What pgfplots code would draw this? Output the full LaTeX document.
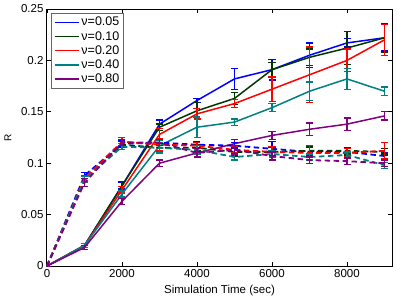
\documentclass[border=0pt]{standalone}
\usepackage{fontspec}
\setmainfont{Liberation Sans}
\usepackage{pgfplots}
\pgfplotsset{compat=1.18}
\definecolor{cB}{rgb}{0,0,1}
\definecolor{cG}{rgb}{0,0.22,0}
\definecolor{cR}{rgb}{1,0,0}
\definecolor{cT}{rgb}{0,0.5,0.5}
\definecolor{cP}{rgb}{0.5,0,0.5}
\begin{document}
\begin{tikzpicture}
\begin{axis}[
  scale only axis, width=345pt, height=257pt,
  xmin=0, xmax=9200, ymin=0, ymax=0.25,
  xtick={0,2000,4000,6000,8000},
  ytick={0,0.05,0.1,0.15,0.2,0.25},
  yticklabels={0,0.05,0.1,0.15,0.2,0.25},
  scaled x ticks=false,
  xticklabel style={/pgf/number format/1000 sep={}},
  /pgf/number format/assume math mode=true,
  tick pos=both, tick align=inside,
  major tick length=4pt,
  axis line style={line width=1pt},
  tick style={line width=0.8pt, black},
  tick label style={font=\fontsize{11.5}{12}\selectfont},
  label style={font=\fontsize{11.5}{12}\selectfont},
  xlabel={Simulation Time (sec)}, ylabel={R},
  xlabel style={at={(axis description cs:0.5,0)}, anchor=center, yshift=-25pt},
  every axis y label/.style={at={(axis description cs:0,0.5)}, anchor=center, xshift=-39pt, rotate=90},
  legend style={font=\fontsize{12.5}{15}\selectfont, draw=black!60, line width=0.6pt, inner sep=2pt, row sep=0pt, at={(0.013,0.985)}, anchor=north west},
  legend cell align=left,
  legend image code/.code={\draw[#1, solid, line width=1.5pt] (0pt,0pt) -- (0.85cm,0pt);},
  every axis plot/.append style={line width=1.5pt},
  dsh/.style={dash pattern=on 5.5pt off 3.5pt, line width=1.8pt},
  error bars/error bar style={line width=1.3pt, solid},
  error bars/error mark options={rotate=90, mark size=3.5pt, line width=1.3pt, solid},
]
% solid lines
\addplot[cB, error bars/.cd, y dir=both, y explicit] table[y error=e] {
x y e
0 0 0.001
1000 0.020 0.002
2000 0.078 0.003
3000 0.138 0.004
4000 0.161 0.002
5000 0.182 0.010
6000 0.191 0.010
7000 0.205 0.012
8000 0.217 0.004
9000 0.222 0.013
};
\addlegendentry{ν=0.05}
\addplot[cG, error bars/.cd, y dir=both, y explicit] table[y error=e] {
x y e
0 0 0.001
1000 0.020 0.002
2000 0.078 0.004
3000 0.135 0.003
4000 0.151 0.008
5000 0.163 0.006
6000 0.191 0.007
7000 0.203 0.008
8000 0.212 0.016
9000 0.222 0.014
};
\addlegendentry{ν=0.10}
\addplot[cR, error bars/.cd, y dir=both, y explicit] table[y error=e] {
x y e
0 0 0.001
1000 0.020 0.002
2000 0.074 0.003
3000 0.128 0.006
4000 0.148 0.005
5000 0.158 0.004
6000 0.172 0.012
7000 0.186 0.027
8000 0.200 0.011
9000 0.220 0.015
};
\addlegendentry{ν=0.20}
\addplot[cT, error bars/.cd, y dir=both, y explicit] table[y error=e] {
x y e
0 0 0.001
1000 0.020 0.002
2000 0.070 0.003
3000 0.117 0.005
4000 0.135 0.010
5000 0.140 0.003
6000 0.154 0.004
7000 0.170 0.009
8000 0.182 0.010
9000 0.170 0.004
};
\addlegendentry{ν=0.40}
\addplot[cP, error bars/.cd, y dir=both, y explicit] table[y error=e] {
x y e
0 0 0.001
1000 0.018 0.002
2000 0.063 0.003
3000 0.100 0.003
4000 0.110 0.004
5000 0.119 0.004
6000 0.127 0.004
7000 0.133 0.006
8000 0.138 0.006
9000 0.146 0.004
};
\addlegendentry{ν=0.80}
% dashed lines
\addplot[cB, dsh, forget plot, error bars/.cd, y dir=both, y explicit] table[y error=e] {
x y e
0 0 0.001
1000 0.088 0.003
2000 0.119 0.003
3000 0.120 0.003
4000 0.118 0.003
5000 0.117 0.003
6000 0.114 0.007
7000 0.111 0.004
8000 0.111 0.004
9000 0.107 0.003
};
\addplot[cG, dsh, forget plot, error bars/.cd, y dir=both, y explicit] table[y error=e] {
x y e
0 0 0.001
1000 0.085 0.003
2000 0.118 0.003
3000 0.115 0.004
4000 0.115 0.003
5000 0.111 0.004
6000 0.111 0.004
7000 0.112 0.004
8000 0.112 0.003
9000 0.111 0.003
};
\addplot[cR, dsh, forget plot, error bars/.cd, y dir=both, y explicit] table[y error=e] {
x y e
0 0 0.001
1000 0.085 0.003
2000 0.121 0.004
3000 0.118 0.006
4000 0.117 0.003
5000 0.113 0.003
6000 0.111 0.005
7000 0.110 0.007
8000 0.110 0.004
9000 0.112 0.008
};
\addplot[cT, dsh, forget plot, error bars/.cd, y dir=both, y explicit] table[y error=e] {
x y e
0 0 0.001
1000 0.084 0.003
2000 0.116 0.003
3000 0.115 0.005
4000 0.113 0.004
5000 0.106 0.003
6000 0.109 0.003
7000 0.106 0.003
8000 0.108 0.003
9000 0.098 0.003
};
\addplot[cP, dsh, forget plot, error bars/.cd, y dir=both, y explicit] table[y error=e] {
x y e
0 0 0.001
1000 0.081 0.004
2000 0.120 0.003
3000 0.120 0.003
4000 0.110 0.004
5000 0.113 0.004
6000 0.107 0.004
7000 0.103 0.003
8000 0.102 0.003
9000 0.100 0.003
};
\end{axis}
\pgfresetboundingbox
\path ([xshift=-47pt,yshift=-35pt]current axis.south west) rectangle ([xshift=5pt,yshift=9pt]current axis.north east);
\end{tikzpicture}
\end{document}
